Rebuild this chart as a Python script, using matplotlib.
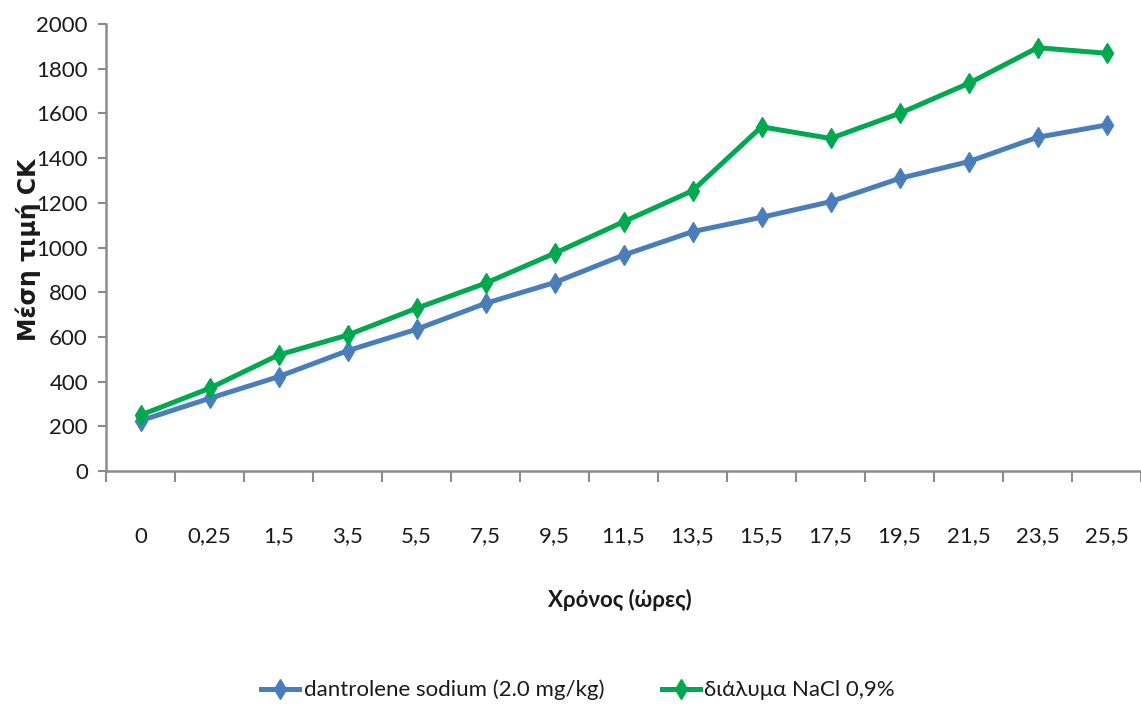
import numpy as np
import matplotlib.pyplot as plt

# time points (hours) and mean CK values for the two groups
hours = ['0', '0,25', '1,5', '3,5', '5,5', '7,5', '9,5', '11,5', '13,5',
         '15,5', '17,5', '19,5', '21,5', '23,5', '25,5']
dantrolene = [225, 325, 422, 538, 634, 750, 843, 966, 1071,
              1135, 1205, 1309, 1384, 1493, 1548]
nacl = [250, 370, 519, 608, 728, 840, 974, 1115, 1254,
        1540, 1488, 1600, 1734, 1894, 1869]

narrow = ['Lato', 'DejaVu Sans']
txt = '#1a1a1a'
axis_gray = '#8c8c8c'

fig = plt.figure(figsize=(11.41, 7.08), dpi=100)
ax = fig.add_axes([106/1141, 237/708, 1035/1141, 447/708])

x = np.arange(len(hours))
ax.plot(x, dantrolene, color='#4a7ebb', lw=3.6, marker='d', ms=10,
        mec='#4a7ebb', mfc='#4a7ebb', label='dantrolene sodium (2.0 mg/kg)')
ax.plot(x, nacl, color='#00a84f', lw=3.6, marker='d', ms=10,
        mec='#00a84f', mfc='#00a84f', label='διάλυμα NaCl 0,9%')

ax.set_ylim(0, 2000)
ax.set_xlim(-0.5, 14.44)
ax.set_yticks(np.arange(0, 2001, 200))

# category labels sit between the tick marks
ax.set_xticks(x)
ax.set_xticklabels(hours)
ax.set_xticks(np.arange(-0.5, 15, 1), minor=True)
ax.tick_params(axis='x', which='major', length=0, pad=40)
ax.tick_params(axis='x', which='minor', length=8, width=1.5, color=axis_gray, direction='out')
ax.tick_params(axis='y', length=6, width=1.5, color=axis_gray, pad=7)

for lab in ax.get_xticklabels() + ax.get_yticklabels():
    lab.set_family(narrow)
    lab.set_fontsize(16)
    lab.set_color(txt)

for s in ['top', 'right']:
    ax.spines[s].set_visible(False)
for s in ['left', 'bottom']:
    ax.spines[s].set_color(axis_gray)
    ax.spines[s].set_linewidth(1.8)

fig.text(28/1141, 1 - 250/708, 'Μέση τιμή CK', rotation=90, ha='center', va='center',
         fontsize=17, fontweight='bold', color=txt, family='DejaVu Sans')
fig.text(620/1141, 1 - 600/708, 'Χρόνος (ώρες)', ha='center', va='center',
         fontsize=16, fontweight='bold', color=txt, family=narrow)

leg = fig.legend(loc='center', bbox_to_anchor=(578/1141, 1 - 690/708), ncol=2,
                 frameon=False, handlelength=1.7, columnspacing=2.6, handletextpad=0.2,
                 prop={'family': narrow, 'size': 16})
for t in leg.get_texts():
    t.set_color(txt)

fig.savefig('out.png', dpi=100)
